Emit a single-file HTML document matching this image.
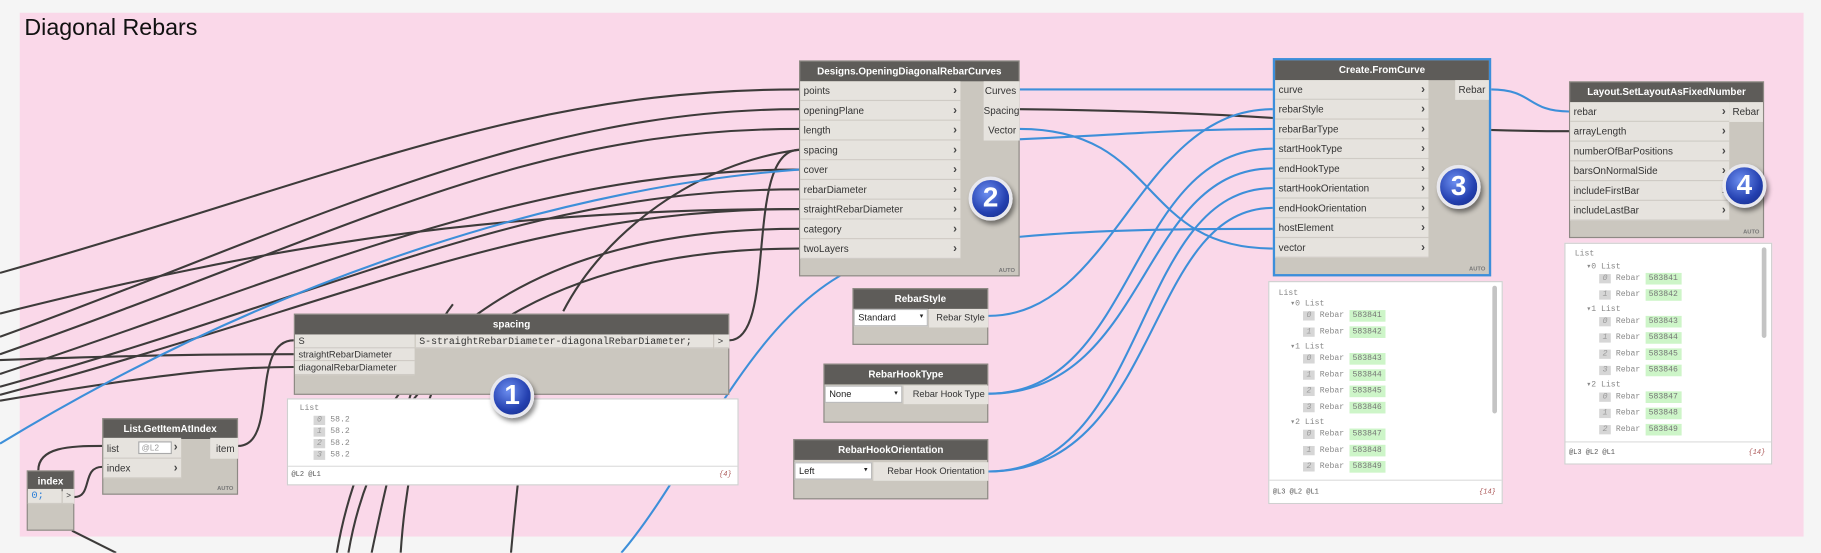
<!DOCTYPE html>
<html><head><meta charset="utf-8"><style>
html,body{margin:0;padding:0;width:1821px;height:553px;overflow:hidden;background:#f5f5f5;font-family:"Liberation Sans",sans-serif}
#s{position:absolute;left:0;top:0;width:1568px;height:476px;transform:scale(1.16135);transform-origin:0 0}
.grp{position:absolute;left:17px;top:11px;width:1536px;height:451px;background:#fad8e9}
.title{position:absolute;left:21px;top:13px;font-size:20px;color:#111}
.node{position:absolute;background:#cbc7bf;border:1px solid #8d8984;box-sizing:border-box}
.hdr{background:#5e5c59;color:#fff;font-weight:bold;font-size:8.5px;text-align:center;height:17px;line-height:17px;white-space:nowrap}
.r{position:absolute;left:0;background:#e6e3de;border-bottom:1px solid #cfcbc5;font-size:8.5px;color:#333;padding-left:3px;box-sizing:border-box;white-space:nowrap}
.r b{position:absolute;right:3px;top:0;font-size:10px;color:#444}
.o{position:absolute;background:#e6e3de;font-size:8.5px;color:#333;text-align:right;padding-right:3px;box-sizing:border-box;white-space:nowrap}
.auto{position:absolute;right:3px;bottom:1px;font-size:5px;font-weight:bold;color:#777}
.badge{position:absolute;z-index:10;width:32px;height:32px;border-radius:50%;background:radial-gradient(circle at 40% 35%,#6d8ff0,#2440b0 60%,#142a80);border:3px solid #e8e8ee;box-shadow:2px 3px 4px rgba(0,0,0,.45);color:#fff;font-weight:bold;font-size:24px;text-align:center;line-height:32px}
.pv{position:absolute;background:#fff;border:1px solid #d0d0d0;font-family:"Liberation Mono",monospace;font-size:7px;color:#888;overflow:hidden}
.pv div{position:absolute;white-space:nowrap}
.ix{background:#d6d6d6;color:#999;font-style:italic;padding:0 3px}
.gv{background:#cdf5c8;color:#777;padding:1px 3px}
.dd{position:absolute;background:#fff;border:1px solid #bbb;font-size:8px;color:#222;padding-left:3px;box-sizing:border-box}
</style></head><body><div id="s">
<div class="grp"></div>
<div class="title">Diagonal Rebars</div>
<svg width="1568" height="476" style="position:absolute;left:0;top:0" fill="none" stroke-width="1.8">
<g stroke="#3d3b3a">
<path d="M0 235 C300 150,450 77,688 77"/>
<path d="M0 290 C250 200,450 94,688 94"/>
<path d="M0 305 C300 200,450 111,688 111"/>
<path d="M628 293 C670 293,640 129,688 129"/>
<path d="M0 322 C250 240,450 146,688 146"/>
<path d="M0 333 C300 250,450 163,688 163"/>
<path d="M0 340 C300 260,450 180,688 180"/>
<path d="M290 476 C320 300,450 197,688 197"/>
<path d="M300 476 C330 300,480 214,688 214"/>
<path d="M320 476 C340 380,360 300,390 262"/>
<path d="M345 476 C350 400,370 320,395 300"/>
<path d="M440 476 C445 420,450 380,455 340"/>
<path d="M485 268 C520 200,600 140,688 129"/>
<path d="M0 270 C200 220,400 180,688 180"/>
<path d="M0 310 C150 305,200 305,253 305"/>
<path d="M0 345 C150 320,200 316,253 316"/>
<path d="M205 384 C240 384,215 293,253 293"/>
<path d="M33 405 C33 385,60 384,88 384"/>
<path d="M64 428 C80 428,70 402,88 402"/>
<path d="M62 457 L100 476"/>
<path d="M878 94 C1100 96,1200 113,1351 113"/>
</g>
<g stroke="#3d8fd9">
<path d="M0 382 C250 230,500 160,688 146"/>
<path d="M878 77 L1096 77"/>
<path d="M878 111 C1000 111,980 214,1096 214"/>
<path d="M826 122 C950 118,1000 111,1096 111"/>
<path d="M535 476 C600 400,650 260,750 225 C850 200,950 197,1096 197"/>
<path d="M851 272 C960 272,980 94,1096 94"/>
<path d="M851 339 C980 339,970 128,1096 128"/>
<path d="M851 339 C990 339,980 145,1096 145"/>
<path d="M851 406 C990 406,975 162,1096 162"/>
<path d="M851 406 C1000 406,985 179,1096 179"/>
<path d="M1284 77 C1320 77,1315 96,1351 96"/>
</g>
</svg>

<div class="node" style="left:688px;top:52px;width:190px;height:186px">
<div class="hdr">Designs.OpeningDiagonalRebarCurves</div>
<div class="r" style="top:17px;width:138px;height:17px;line-height:17px">points<b>›</b></div>
<div class="r" style="top:34px;width:138px;height:17px;line-height:17px">openingPlane<b>›</b></div>
<div class="r" style="top:51px;width:138px;height:17px;line-height:17px">length<b>›</b></div>
<div class="r" style="top:68px;width:138px;height:17px;line-height:17px">spacing<b>›</b></div>
<div class="r" style="top:85px;width:138px;height:17px;line-height:17px">cover<b>›</b></div>
<div class="r" style="top:102px;width:138px;height:17px;line-height:17px">rebarDiameter<b>›</b></div>
<div class="r" style="top:119px;width:138px;height:17px;line-height:17px">straightRebarDiameter<b>›</b></div>
<div class="r" style="top:136px;width:138px;height:17px;line-height:17px">category<b>›</b></div>
<div class="r" style="top:153px;width:138px;height:17px;line-height:17px">twoLayers<b>›</b></div>
<div class="o" style="left:158px;top:17px;width:31px;height:51px;line-height:17px">Curves<br>Spacing<br>Vector</div>
<div class="auto">AUTO</div>
</div>
<div class="badge" style="left:834px;top:152px">2</div>

<div class="node" style="left:1096px;top:50px;width:188px;height:188px;border:2px solid #3c8edb">
<div class="hdr">Create.FromCurve</div>
<div class="r" style="top:17px;width:132px;height:17px;line-height:17px">curve<b>›</b></div>
<div class="r" style="top:34px;width:132px;height:17px;line-height:17px">rebarStyle<b>›</b></div>
<div class="r" style="top:51px;width:132px;height:17px;line-height:17px">rebarBarType<b>›</b></div>
<div class="r" style="top:68px;width:132px;height:17px;line-height:17px">startHookType<b>›</b></div>
<div class="r" style="top:85px;width:132px;height:17px;line-height:17px">endHookType<b>›</b></div>
<div class="r" style="top:102px;width:132px;height:17px;line-height:17px">startHookOrientation<b>›</b></div>
<div class="r" style="top:119px;width:132px;height:17px;line-height:17px">endHookOrientation<b>›</b></div>
<div class="r" style="top:136px;width:132px;height:17px;line-height:17px">hostElement<b>›</b></div>
<div class="r" style="top:153px;width:132px;height:17px;line-height:17px">vector<b>›</b></div>
<div class="o" style="left:155px;top:17px;width:29px;height:17px;line-height:17px">Rebar</div>
<div class="auto">AUTO</div>
</div>
<div class="badge" style="left:1237px;top:142px">3</div>

<div class="node" style="left:1351px;top:70px;width:168px;height:135px">
<div class="hdr">Layout.SetLayoutAsFixedNumber</div>
<div class="r" style="top:17px;width:137px;height:17px;line-height:17px">rebar<b>›</b></div>
<div class="r" style="top:34px;width:137px;height:17px;line-height:17px">arrayLength<b>›</b></div>
<div class="r" style="top:51px;width:137px;height:17px;line-height:17px">numberOfBarPositions<b>›</b></div>
<div class="r" style="top:68px;width:137px;height:17px;line-height:17px">barsOnNormalSide<b>›</b></div>
<div class="r" style="top:85px;width:137px;height:17px;line-height:17px">includeFirstBar<b>›</b></div>
<div class="r" style="top:102px;width:137px;height:17px;line-height:17px">includeLastBar<b>›</b></div>
<div class="o" style="left:137px;top:17px;width:29px;height:17px;line-height:17px">Rebar</div>
<div class="auto">AUTO</div>
</div>
<div class="badge" style="left:1483px;top:141px">4</div>

<div class="node" style="left:253px;top:270px;width:375px;height:70px">
<div class="hdr">spacing</div>
<div class="r" style="top:17px;width:103px;height:11.5px;line-height:11px;font-size:8px">S</div>
<div class="r" style="top:28.5px;width:103px;height:11.5px;line-height:11px;font-size:8px">straightRebarDiameter</div>
<div class="r" style="top:40px;width:103px;height:11.5px;line-height:11px;font-size:8px">diagonalRebarDiameter</div>
<div class="r" style="left:104px;top:17px;width:256px;height:12px;line-height:12px;font-family:'Liberation Mono',monospace;font-size:8.5px">S-straightRebarDiameter-diagonalRebarDiameter;</div>
<div class="r" style="left:361px;top:17px;width:13px;height:12px;line-height:12px;font-size:8px">&gt;</div>
</div>
<div class="pv" style="left:247px;top:343px;width:387px;height:73px">
<div style="left:10px;top:4px">List</div>
<div style="left:22px;top:14px"><span class="ix">0</span> 58.2</div>
<div style="left:22px;top:24px"><span class="ix">1</span> 58.2</div>
<div style="left:22px;top:34px"><span class="ix">2</span> 58.2</div>
<div style="left:22px;top:44px"><span class="ix">3</span> 58.2</div>
<div style="left:0;top:57px;width:387px;border-top:1px solid #ddd"></div>
<div style="left:3px;top:61px;font-size:6px;color:#555">@L2 @L1</div>
<div style="right:5px;top:61px;font-size:6px;color:#a55;font-style:italic">{4}</div>
</div>
<div class="badge" style="left:422px;top:322px">1</div>

<div class="node" style="left:88px;top:360px;width:117px;height:66px">
<div class="hdr">List.GetItemAtIndex</div>
<div class="r" style="top:16px;width:67px;height:18px;line-height:18px">list<b>›</b></div>
<div style="position:absolute;left:30px;top:19px;width:29px;height:11px;background:#fff;border:1px solid #aaa;font-size:7px;color:#999;line-height:11px;padding-left:2px;box-sizing:border-box">@L2</div>
<div class="r" style="top:34px;width:67px;height:17px;line-height:17px">index<b>›</b></div>
<div class="o" style="left:92px;top:16px;width:24px;height:18px;line-height:18px">item</div>
<div class="auto">AUTO</div>
</div>

<div class="node" style="left:23px;top:405px;width:41px;height:52px">
<div class="hdr">index</div>
<div class="r" style="top:15px;width:29px;height:13px;line-height:13px;font-family:'Liberation Mono',monospace;color:#2b7fd8;font-size:9px">0;</div>
<div class="r" style="left:30px;top:15px;width:10px;height:13px;line-height:13px;font-size:7px">&gt;</div>
</div>

<div class="node" style="left:734px;top:248px;width:117px;height:49px">
<div class="hdr">RebarStyle</div>
<div class="dd" style="left:0;top:17px;width:64px;height:15px;line-height:13px">Standard<span style="position:absolute;right:3px;font-size:6px">▾</span></div>
<div class="o" style="left:65px;top:17px;width:51px;height:16px;line-height:16px;font-size:8px">Rebar Style</div>
</div>
<div class="node" style="left:709px;top:313px;width:142px;height:51px">
<div class="hdr">RebarHookType</div>
<div class="dd" style="left:0;top:18px;width:67px;height:15px;line-height:13px">None<span style="position:absolute;right:3px;font-size:6px">▾</span></div>
<div class="o" style="left:68px;top:18px;width:73px;height:16px;line-height:16px;font-size:8px">Rebar Hook Type</div>
</div>
<div class="node" style="left:683px;top:378px;width:168px;height:52px">
<div class="hdr">RebarHookOrientation</div>
<div class="dd" style="left:0;top:19px;width:67px;height:15px;line-height:13px">Left<span style="position:absolute;right:3px;font-size:6px">▾</span></div>
<div class="o" style="left:68px;top:19px;width:99px;height:16px;line-height:16px;font-size:8px">Rebar Hook Orientation</div>
</div>

<div class="pv" style="left:1092px;top:242px;width:200px;height:190px">
<div style="left:8px;top:6px">List</div>
<div style="left:18px;top:14px">▾0 List</div>
<div style="left:29px;top:25px"><span class="ix">0</span> Rebar <span class="gv">583841</span></div>
<div style="left:29px;top:39px"><span class="ix">1</span> Rebar <span class="gv">583842</span></div>
<div style="left:18px;top:51px">▾1 List</div>
<div style="left:29px;top:62px"><span class="ix">0</span> Rebar <span class="gv">583843</span></div>
<div style="left:29px;top:76px"><span class="ix">1</span> Rebar <span class="gv">583844</span></div>
<div style="left:29px;top:90px"><span class="ix">2</span> Rebar <span class="gv">583845</span></div>
<div style="left:29px;top:104px"><span class="ix">3</span> Rebar <span class="gv">583846</span></div>
<div style="left:18px;top:116px">▾2 List</div>
<div style="left:29px;top:127px"><span class="ix">0</span> Rebar <span class="gv">583847</span></div>
<div style="left:29px;top:141px"><span class="ix">1</span> Rebar <span class="gv">583848</span></div>
<div style="left:29px;top:155px"><span class="ix">2</span> Rebar <span class="gv">583849</span></div>
<div style="left:0;top:170px;width:200px;height:20px;background:#fff;border-top:1px solid #ddd"></div>
<div style="left:3px;top:177px;font-size:6px;color:#555">@L3 @L2 @L1</div>
<div style="right:5px;top:177px;font-size:6px;color:#a55;font-style:italic">{14}</div>
<div style="left:192px;top:3px;width:4px;height:110px;background:#c4c4c4;border-radius:2px"></div>
</div>

<div class="pv" style="left:1347px;top:209px;width:177px;height:189px">
<div style="left:8px;top:5px">List</div>
<div style="left:18px;top:15px">▾0 List</div>
<div style="left:29px;top:26px"><span class="ix">0</span> Rebar <span class="gv">583841</span></div>
<div style="left:29px;top:40px"><span class="ix">1</span> Rebar <span class="gv">583842</span></div>
<div style="left:18px;top:52px">▾1 List</div>
<div style="left:29px;top:63px"><span class="ix">0</span> Rebar <span class="gv">583843</span></div>
<div style="left:29px;top:77px"><span class="ix">1</span> Rebar <span class="gv">583844</span></div>
<div style="left:29px;top:91px"><span class="ix">2</span> Rebar <span class="gv">583845</span></div>
<div style="left:29px;top:105px"><span class="ix">3</span> Rebar <span class="gv">583846</span></div>
<div style="left:18px;top:117px">▾2 List</div>
<div style="left:29px;top:128px"><span class="ix">0</span> Rebar <span class="gv">583847</span></div>
<div style="left:29px;top:142px"><span class="ix">1</span> Rebar <span class="gv">583848</span></div>
<div style="left:29px;top:156px"><span class="ix">2</span> Rebar <span class="gv">583849</span></div>
<div style="left:0;top:170px;width:177px;height:19px;background:#fff;border-top:1px solid #ddd"></div>
<div style="left:3px;top:176px;font-size:6px;color:#555">@L3 @L2 @L1</div>
<div style="right:5px;top:176px;font-size:6px;color:#a55;font-style:italic">{14}</div>
<div style="left:169px;top:3px;width:4px;height:78px;background:#c4c4c4;border-radius:2px"></div>
</div>
</div></body></html>
